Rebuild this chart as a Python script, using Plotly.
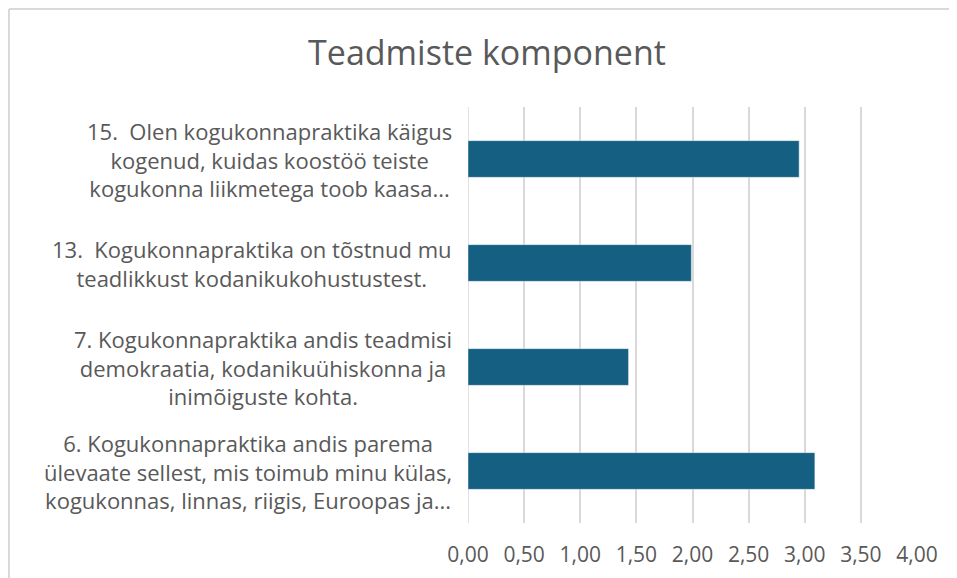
import plotly.graph_objects as go

categories = [
    "6. Kogukonnapraktika andis parema<br>ülevaate sellest, mis toimub minu külas,<br>kogukonnas, linnas, riigis, Euroopas ja...",
    "7. Kogukonnapraktika andis teadmisi<br>demokraatia, kodanikuühiskonna ja<br>inimõiguste kohta.",
    "13.  Kogukonnapraktika on tõstnud mu<br>teadlikkust kodanikukohustustest.",
    "15.  Olen kogukonnapraktika käigus<br>kogenud, kuidas koostöö teiste<br>kogukonna liikmetega toob kaasa...",
]
values = [3.09, 1.43, 1.99, 2.95]
tick_values = [0, 0.5, 1, 1.5, 2, 2.5, 3, 3.5, 4]
title_text = "Teadmiste komponent"

FONT = "Open Sans"
GREY = "#595959"
BAR = "#156082"

OFF = 8  # page body offset
W, H = 957, 578
L, T = 468 - OFF, 107 - OFF
pw, ph = 449, 416
R, B = W - L - pw, H - T - ph

fig = go.Figure()
fig.add_trace(go.Bar(
    y=list(range(len(categories))),
    x=values,
    orientation="h",
    marker=dict(color=BAR),
    hoverinfo="x",
))

for i, lab in enumerate(categories):
    fig.add_annotation(
        x=-14 / pw, xref="paper", y=i, yref="y",
        text=lab, showarrow=False,
        xanchor="right", yanchor="middle", align="center",
        font=dict(family=FONT, size=22, color=GREY),
    )

# frame lines (top and left) like the screenshot border
fx = (1 - L) / pw
fy = (H - B - 1) / ph
fig.add_shape(type="line", xref="paper", yref="paper", x0=fx, x1=(W - L) / pw, y0=fy, y1=fy,
              line=dict(color="#d9d9d9", width=2))
fig.add_shape(type="line", xref="paper", yref="paper", x0=fx, x1=fx, y0=fy, y1=-B / ph,
              line=dict(color="#d9d9d9", width=2))

fig.update_layout(
    width=W, height=H,
    margin=dict(l=L, r=R, t=T, b=B),
    paper_bgcolor="white", plot_bgcolor="white",
    separators=", ",
    bargap=0.647,
    showlegend=False,
    title=dict(text=title_text, x=(487 - OFF) / W, xanchor="center", xref="container",
               y=1 - (53 - OFF) / H, yanchor="middle", yref="container",
               font=dict(family=FONT, size=34, color=GREY)),
    xaxis=dict(range=[0, 4], tickvals=tick_values, tickformat=".2f",
               showgrid=True, gridcolor="#d9d9d9", gridwidth=1.5,
               zeroline=False, showline=False, ticks="",
               ticklabelstandoff=17,
               tickfont=dict(family=FONT, size=21, color=GREY)),
    yaxis=dict(range=[-0.5, 3.5], showticklabels=False, showgrid=False,
               zeroline=False, showline=False, ticks=""),
)
fig.add_vline(x=0, line=dict(color="#d9d9d9", width=1.5), layer="below")

fig.write_html("out.html")
